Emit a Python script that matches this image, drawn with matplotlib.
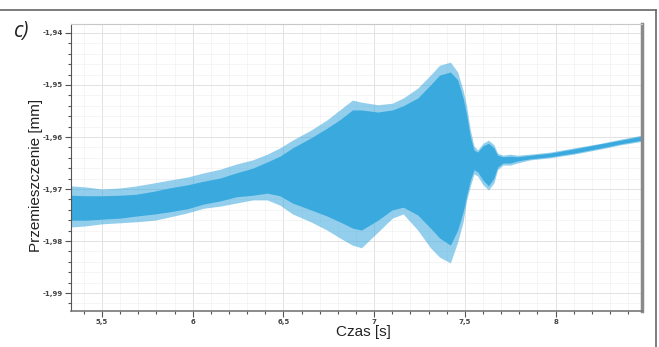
import matplotlib
matplotlib.use("Agg")
import matplotlib.pyplot as plt
from matplotlib.lines import Line2D
from matplotlib.ticker import MultipleLocator, FuncFormatter

# envelope of the displacement signal
czas = [5.33, 5.41, 5.50, 5.60, 5.69, 5.79, 5.87, 5.97, 6.06, 6.15, 6.24, 6.33,
        6.41, 6.48, 6.55, 6.65, 6.74, 6.81, 6.88, 6.93, 7.02, 7.10, 7.16, 7.24,
        7.31, 7.36, 7.42, 7.46, 7.49, 7.51, 7.53, 7.55, 7.57, 7.60, 7.63, 7.66,
        7.68, 7.71, 7.75, 7.79, 7.86, 7.97, 8.10, 8.25, 8.36, 8.48]
szczyt_gora = [-1.9694, -1.9696, -1.9700, -1.9698, -1.9694, -1.9688, -1.9683, -1.9677,
               -1.9669, -1.9662, -1.9652, -1.9644, -1.9633, -1.9621, -1.9606, -1.9587,
               -1.9567, -1.9548, -1.9529, -1.9533, -1.9538, -1.9535, -1.9525, -1.9506,
               -1.9481, -1.9462, -1.9456, -1.9475, -1.9510, -1.9542, -1.9587, -1.9617,
               -1.9625, -1.9612, -1.9606, -1.9615, -1.9631, -1.9635, -1.9633, -1.9635,
               -1.9633, -1.9629, -1.9621, -1.9612, -1.9604, -1.9596]
pasmo_gora = [-1.9712, -1.9713, -1.9713, -1.9712, -1.9710, -1.9704, -1.9698, -1.9692,
              -1.9685, -1.9679, -1.9669, -1.9660, -1.9648, -1.9637, -1.9621, -1.9602,
              -1.9583, -1.9567, -1.9548, -1.9548, -1.9552, -1.9548, -1.9540, -1.9525,
              -1.9500, -1.9481, -1.9475, -1.9490, -1.9525, -1.9558, -1.9600, -1.9625,
              -1.9629, -1.9617, -1.9612, -1.9621, -1.9635, -1.9638, -1.9637, -1.9638,
              -1.9635, -1.9631, -1.9623, -1.9613, -1.9606, -1.9598]
pasmo_dol = [-1.9760, -1.9760, -1.9758, -1.9756, -1.9752, -1.9748, -1.9744, -1.9738,
             -1.9729, -1.9723, -1.9715, -1.9712, -1.9708, -1.9713, -1.9727, -1.9740,
             -1.9752, -1.9763, -1.9775, -1.9779, -1.9760, -1.9740, -1.9735, -1.9750,
             -1.9775, -1.9794, -1.9808, -1.9779, -1.9744, -1.9712, -1.9683, -1.9663,
             -1.9667, -1.9683, -1.9694, -1.9679, -1.9658, -1.9650, -1.9650, -1.9646,
             -1.9642, -1.9638, -1.9631, -1.9621, -1.9613, -1.9606]
szczyt_dol = [-1.9773, -1.9771, -1.9767, -1.9765, -1.9763, -1.9760, -1.9754, -1.9746,
              -1.9737, -1.9733, -1.9727, -1.9721, -1.9721, -1.9731, -1.9748, -1.9763,
              -1.9779, -1.9794, -1.9808, -1.9813, -1.9783, -1.9756, -1.9748, -1.9779,
              -1.9813, -1.9831, -1.9842, -1.9802, -1.9763, -1.9721, -1.9694, -1.9671,
              -1.9675, -1.9692, -1.9702, -1.9688, -1.9663, -1.9654, -1.9654, -1.9650,
              -1.9644, -1.9640, -1.9633, -1.9623, -1.9615, -1.9608]

kolor = '#3aa9de'

fig = plt.figure(figsize=(6.59, 3.47), dpi=100)
ax = fig.add_axes([71/659, 1 - 311/347, (642 - 71)/659, (311 - 24)/347])

# lighter outer band = spikes, solid inner band = bulk of the oscillation
ax.fill_between(czas, szczyt_dol, szczyt_gora, color=kolor, alpha=0.55, lw=0)
ax.fill_between(czas, pasmo_dol, pasmo_gora, color=kolor, alpha=1.0, lw=0)

ax.set_xlim(5.329, 8.476)
ax.set_ylim(-1.99346, -1.93827)

ax.xaxis.set_major_locator(MultipleLocator(0.5))
ax.xaxis.set_minor_locator(MultipleLocator(0.1))
ax.yaxis.set_major_locator(MultipleLocator(0.01))
ax.yaxis.set_minor_locator(MultipleLocator(0.002))

# polish decimal comma
ax.xaxis.set_major_formatter(FuncFormatter(lambda v, p: ('%g' % v).replace('.', ',')))
ax.yaxis.set_major_formatter(FuncFormatter(lambda v, p: ('%.2f' % v).replace('.', ',')))

ax.tick_params(which='major', direction='out', length=4, width=0.8, color='#555555',
               labelsize=5, labelcolor='#444444', pad=2)
ax.tick_params(which='minor', direction='out', length=2.5, width=0.8, color='#555555')
for lab in ax.get_xticklabels() + ax.get_yticklabels():
    lab.set_fontweight('bold')

ax.grid(which='major', color='#e2e2e2', lw=0.7)
ax.grid(which='minor', color='#f1f1f1', lw=0.5)
ax.set_axisbelow(True)

ax.spines['left'].set_color('#555555')
ax.spines['bottom'].set_color('#777777')
ax.spines['bottom'].set_linewidth(1.2)
ax.spines['top'].set_color('#c8c8c8')
ax.spines['top'].set_linewidth(0.8)
ax.spines['right'].set_color('#8a8a8a')
ax.spines['right'].set_linewidth(2.5)

fig.text(36/659, 1 - 175/347, 'Przemieszczenie [mm]', rotation=90, ha='center', va='center',
         fontsize=11, family='Liberation Sans', color='#222222')
fig.text(363/659, 1 - 332/347, 'Czas [s]', ha='center', va='center',
         fontsize=11, family='Liberation Sans', color='#222222')
fig.text(22/659, 1 - 32/347, 'c)', ha='center', va='center', fontsize=15,
         family='Open Sans', style='italic', color='#222222')

# frame of the figure panel
fig.add_artist(Line2D([0, 655.5/659], [1 - 9.5/347, 1 - 9.5/347], color='#666666', lw=1.2))
fig.add_artist(Line2D([655.5/659, 655.5/659], [0, 1 - 9.5/347], color='#666666', lw=1.2))

fig.savefig('out.png', dpi=100)
